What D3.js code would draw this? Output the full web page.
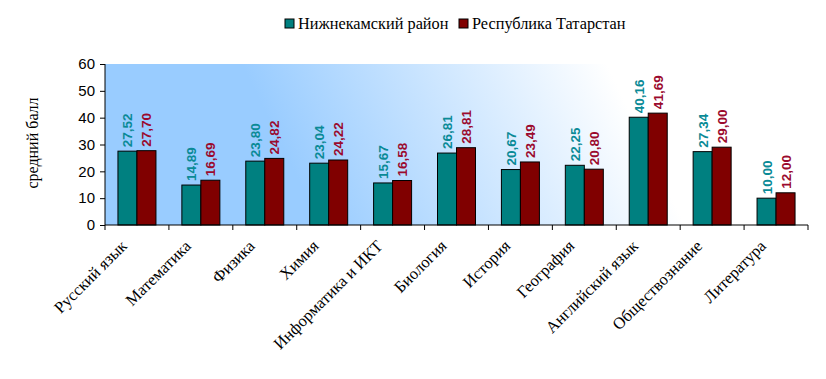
<!DOCTYPE html>
<html><head><meta charset="utf-8">
<script src="https://cdn.jsdelivr.net/npm/d3@7"></script>
<style>body{margin:0;background:#fff}</style>
</head><body>
<svg id="c" width="826" height="379"></svg>
<script>
const categories = ["Русский язык","Математика","Физика","Химия","Информатика и ИКТ","Биология","История","География","Английский язык","Обществознание","Литература"];
const seriesNames = ["Нижнекамский район","Республика Татарстан"];
const nizhnekamsk = [27.52,14.89,23.80,23.04,15.67,26.81,20.67,22.25,40.16,27.34,10.00];
const tatarstan = [27.70,16.69,24.82,24.22,16.58,28.81,23.49,20.80,41.69,29.00,12.00];
const yTicks = [0,10,20,30,40,50,60];

const SERIF = "'Liberation Serif', 'DejaVu Serif', serif";
const SANS = "'Liberation Sans', Arial, sans-serif";
const fill = ["#008080","#800000"];
const labelColor = ["#0a8a96","#9b0a2e"];
const svg = d3.select("#c");
const L=105, R=808, T=64, B=225;
const x = d3.scaleBand().domain(categories).range([L,R]);
const x1 = d3.scaleBand().domain([0,1]).range([0,38]);
const y = d3.scaleLinear().domain([0,60]).range([B,T]);

const defs = svg.append("defs");
const g = defs.append("linearGradient").attr("id","bg").attr("gradientUnits","userSpaceOnUse")
  .attr("x1",240).attr("y1",225).attr("x2",600).attr("y2",50);
g.append("stop").attr("offset",0.18).attr("stop-color","#99ccff");
g.append("stop").attr("offset",1).attr("stop-color","#ffffff");
svg.append("rect").attr("x",L).attr("y",T).attr("width",R-L).attr("height",B-T).attr("fill","url(#bg)");

const data = categories.map((c,i)=>({c, v:[nizhnekamsk[i],tatarstan[i]]}));
const grp = svg.selectAll(".grp").data(data).enter().append("g")
  .attr("transform",d=>`translate(${x(d.c)+(x.bandwidth()-38)/2},0)`);
grp.selectAll("rect").data(d=>d.v).enter().append("rect")
  .attr("x",(d,j)=>x1(j)).attr("width",x1.bandwidth())
  .attr("y",d=>y(d)).attr("height",d=>B-y(d))
  .attr("fill",(d,j)=>fill[j]).attr("stroke","#000").attr("stroke-width",1);
grp.selectAll("text").data(d=>d.v).enter().append("text")
  .attr("transform",(d,j)=>`translate(${x1(j)+x1.bandwidth()/2+5},${y(d)-4}) rotate(-90)`)
  .attr("font-family",SANS).attr("font-size",13.5).attr("font-weight","bold")
  .attr("fill",(d,j)=>labelColor[j])
  .text(d=>d.toFixed(2).replace(".",","));

// y axis
const ya = svg.append("g").attr("transform",`translate(${L},0)`)
  .call(d3.axisLeft(y).tickValues(yTicks).tickSize(5).tickPadding(5));
ya.select(".domain").attr("stroke","#000").attr("d",`M0,${T}V${B}`);
ya.selectAll("text").attr("font-family",SANS).attr("font-size",15).attr("fill","#000");

// x axis
const xa = svg.append("g").attr("transform",`translate(0,${B})`);
xa.append("line").attr("x1",L).attr("x2",R).attr("y1",0).attr("y2",0).attr("stroke","#000");
xa.selectAll(".tk").data(d3.range(categories.length+1)).enter().append("line")
  .attr("x1",i=>L+i*x.step()).attr("x2",i=>L+i*x.step()).attr("y1",0).attr("y2",5).attr("stroke","#000");
xa.selectAll(".lb").data(categories).enter().append("text")
  .attr("transform",d=>`translate(${x(d)+x.bandwidth()/2-9},${22}) rotate(-45)`)
  .attr("text-anchor","end").attr("font-family",SERIF).attr("font-size",16.5)
  .attr("fill","#000").text(d=>d);

// y title
svg.append("text").attr("transform","translate(38,143) rotate(-90)").attr("text-anchor","middle")
  .attr("font-family",SERIF).attr("font-size",16).text("средний балл");

// legend
const lg = svg.append("g");
const lx = [285, 459];
seriesNames.forEach((n,i)=>{
  lg.append("rect").attr("x",lx[i]).attr("y",19).attr("width",9).attr("height",9).attr("fill",fill[i]).attr("stroke","#000");
  lg.append("text").attr("x",lx[i]+13).attr("y",29).attr("font-family",SERIF)
    .attr("font-size",16.3).text(n);
});
</script>
</body></html>
